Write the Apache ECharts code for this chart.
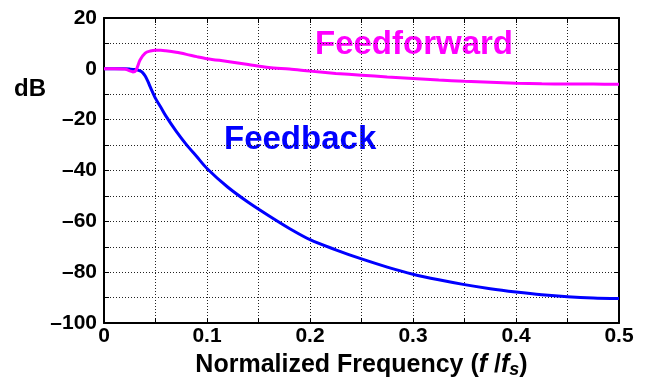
<!DOCTYPE html>
<html>
<head>
<meta charset="utf-8">
<script src="https://cdn.jsdelivr.net/npm/echarts@6/dist/echarts.min.js"></script>
<style>
  html, body { margin: 0; padding: 0; background: #fff; }
  #chart { width: 651px; height: 377px; }
</style>
</head>
<body>
<div id="chart"></div>
<script>
// frequency response (f/fs, dB)
const fbFreq = [0, 0.01, 0.02, 0.025, 0.03, 0.035, 0.0375, 0.04, 0.0425, 0.045, 0.05, 0.055, 0.06, 0.07, 0.08, 0.09, 0.1,
  0.12, 0.14, 0.16, 0.18, 0.2, 0.225, 0.25, 0.275, 0.3, 0.325, 0.35, 0.375, 0.4, 0.425, 0.45, 0.475, 0.5];
const fbDb = [0, 0, 0, -0.1, -0.3, -0.8, -1.5, -2.8, -4.8, -7.2, -11.6, -15, -18.5, -24.5, -29.8, -34.5, -39.2,
  -46.5, -52.5, -57.8, -62.8, -67.2, -71.2, -74.8, -78.0, -80.8, -83.0, -84.9, -86.5, -87.8, -88.9, -89.7, -90.2, -90.4];

const ffFreq = [0, 0.01, 0.02, 0.025, 0.028, 0.031, 0.035, 0.04, 0.045, 0.05, 0.055, 0.06, 0.07, 0.08, 0.09, 0.1,
  0.12, 0.14, 0.16, 0.18, 0.2, 0.225, 0.25, 0.275, 0.3, 0.325, 0.35, 0.375, 0.4, 0.425, 0.45, 0.475, 0.5];
const ffDb = [0, 0, -0.1, -0.8, -1.2, -0.6, 3.5, 6.2, 7.0, 7.3, 7.3, 7.1, 6.5, 5.7, 4.8, 4.0,
  2.9, 1.7, 0.5, -0.1, -0.9, -1.8, -2.5, -3.2, -3.8, -4.4, -4.9, -5.3, -5.7, -5.9, -6.0, -6.0, -6.1];

const xTicks = [0, 0.1, 0.2, 0.3, 0.4, 0.5];
const yTicks = [-100, -80, -60, -40, -20, 0, 20];

const font = 'Liberation Sans, Arial, sans-serif';

function pairs(xs, ys) {
  return xs.map((x, i) => [x, ys[i]]);
}

const chart = echarts.init(document.getElementById('chart'));

const tickStyle = { show: true, inside: true, length: 5, lineStyle: { color: '#000', width: 1 } };
const gridLine = { show: true, lineStyle: { color: '#222', type: [1, 2], width: 1 } };
const axisLine = { show: true, onZero: false, lineStyle: { color: '#000', width: 2 } };

const option = {
  animation: false,
  grid: { left: 104, right: 32, top: 18, bottom: 54, outerBoundsMode: 'none', containLabel: false },
  xAxis: [
    {
      type: 'value', min: 0, max: 0.5, interval: 0.05,
      axisLine: axisLine, axisTick: tickStyle, splitLine: gridLine,
      axisLabel: {
        color: '#000', fontFamily: font, fontWeight: 'bold', fontSize: 21, margin: 3,
        formatter: v => {
          const r = Math.round(v * 100) / 100;
          return xTicks.some(t => Math.abs(t - r) < 1e-6) ? String(r) : '';
        }
      },
      name: '{a|Normalized Frequency (}{i|f}{a| /}{i|f}{s|s}{a|)}',
      nameLocation: 'middle', nameGap: 28,
      nameTextStyle: {
        rich: {
          a: { fontFamily: font, fontWeight: 'bold', fontSize: 25, color: '#000' },
          i: { fontFamily: font, fontWeight: 'bold', fontStyle: 'italic', fontSize: 25, color: '#000' },
          s: { fontFamily: font, fontWeight: 'bold', fontStyle: 'italic', fontSize: 18, color: '#000', padding: [10, 0, 0, 0] }
        }
      }
    },
    {
      type: 'value', position: 'top', min: 0, max: 0.5, interval: 0.05,
      axisLine: axisLine, axisTick: tickStyle, splitLine: { show: false }, axisLabel: { show: false }
    }
  ],
  yAxis: [
    {
      type: 'value', min: -100, max: 20, interval: 10,
      axisLine: axisLine, axisTick: tickStyle, splitLine: gridLine,
      axisLabel: {
        color: '#000', fontFamily: font, fontWeight: 'bold', fontSize: 21, margin: 7,
        formatter: v => yTicks.indexOf(v) >= 0 ? String(v).replace('-', '\u2013') : ''
      }
    },
    {
      type: 'value', position: 'right', min: -100, max: 20, interval: 10,
      axisLine: axisLine, axisTick: tickStyle, splitLine: { show: false }, axisLabel: { show: false }
    }
  ],
  graphic: [
    { type: 'text', left: 14, top: 77, style: { text: 'dB', font: 'bold 24px ' + font, fill: '#000' } },
    { type: 'text', left: 315, top: 28, style: { text: 'Feedforward', font: 'bold 33px ' + font, fill: '#ff00ff' } },
    { type: 'text', left: 224, top: 123, style: { text: 'Feedback', font: 'bold 33px ' + font, fill: '#0000ff' } }
  ],
  series: [
    {
      name: 'Feedback', type: 'line', data: pairs(fbFreq, fbDb), smooth: 0.3,
      showSymbol: false, lineStyle: { color: '#0000ff', width: 3 }, z: 3
    },
    {
      name: 'Feedforward', type: 'line', data: pairs(ffFreq, ffDb), smooth: 0.3,
      showSymbol: false, lineStyle: { color: '#ff00ff', width: 3 }, z: 4
    }
  ]
};

chart.setOption(option);
</script>
</body>
</html>
